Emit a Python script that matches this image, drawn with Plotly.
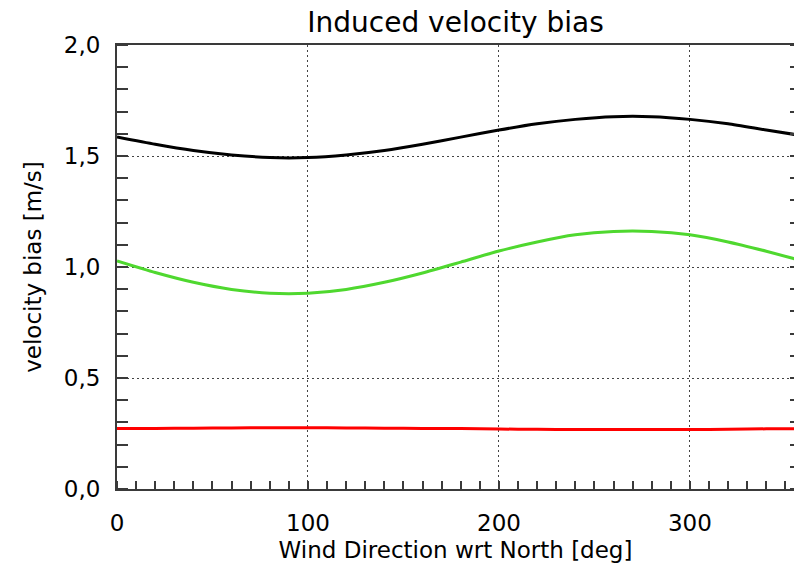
import plotly.graph_objects as go

# Data
direction = [0, 20, 40, 60, 80, 100, 120, 140, 160, 180, 200, 220, 240, 260, 280, 300, 320, 340, 360]
bias_black = [1.586, 1.553, 1.525, 1.505, 1.493, 1.493, 1.505, 1.525, 1.553, 1.585,
              1.617, 1.645, 1.665, 1.677, 1.677, 1.665, 1.645, 1.617, 1.590]
bias_green = [1.027, 0.975, 0.931, 0.899, 0.882, 0.882, 0.899, 0.931, 0.973, 1.022,
              1.072, 1.113, 1.145, 1.160, 1.160, 1.145, 1.113, 1.071, 1.025]
bias_red = [0.272, 0.273, 0.274, 0.275, 0.276, 0.276, 0.275, 0.274, 0.273, 0.272,
            0.270, 0.269, 0.268, 0.268, 0.268, 0.268, 0.269, 0.271, 0.272]

x_ticks = [0, 100, 200, 300]
x_ticklabels = ["0", "100", "200", "300"]
y_ticks = [0.0, 0.5, 1.0, 1.5, 2.0]
y_ticklabels = ["0,0", "0,5", "1,0", "1,5", "2,0"]

FONT = "DejaVu Sans"
AX = "#3a3a3a"
GRID_DASH = "2px,3px"

fig = go.Figure()
for ys, col in [(bias_black, "#000000"), (bias_green, "#4fd82f"), (bias_red, "#ff0000")]:
    fig.add_trace(go.Scatter(x=direction, y=ys, mode="lines",
                             line=dict(color=col, width=3, shape="spline", smoothing=0.6),
                             showlegend=False, hoverinfo="skip"))

# phantom trace for right-hand tick marks
fig.add_trace(go.Scatter(x=[0], y=[0], yaxis="y2", mode="lines",
                         line=dict(width=0), showlegend=False, hoverinfo="skip"))

fig.update_layout(
    width=794, height=563,
    margin=dict(l=117, r=0, t=45, b=74),
    paper_bgcolor="white", plot_bgcolor="white",
    title=dict(text="Induced velocity bias", x=0.5, xref="paper",
               y=1 - 22 / 563, yref="container", yanchor="middle", xanchor="center",
               font=dict(family=FONT, size=28, color="black")),
    xaxis=dict(range=[0, 354.5], tickmode="array", tickvals=x_ticks, ticktext=x_ticklabels,
               showline=True, linecolor=AX, linewidth=2, mirror=True,
               ticks="", showgrid=True, gridcolor="#444", griddash=GRID_DASH, gridwidth=1.3,
               zeroline=False, ticklabelstandoff=12,
               tickfont=dict(family=FONT, size=23, color="black"),
               minor=dict(dtick=10, tick0=0, ticks="inside", ticklen=8, tickcolor=AX,
                          tickwidth=1.5, showgrid=False),
               title=dict(text="Wind Direction wrt North [deg]", standoff=8,
                          font=dict(family=FONT, size=23, color="black"))),
    yaxis=dict(range=[0, 2.0], tickmode="array", tickvals=y_ticks, ticktext=y_ticklabels,
               showline=True, linecolor=AX, linewidth=2, mirror=False,
               ticks="", showgrid=True, gridcolor="#444", griddash=GRID_DASH, gridwidth=1.3,
               zeroline=False, ticklabelstandoff=10,
               tickfont=dict(family=FONT, size=23, color="black"),
               minor=dict(dtick=0.1, tick0=0, ticks="inside", ticklen=11, tickcolor=AX,
                          tickwidth=1.5, showgrid=False),
               title=dict(text="velocity bias [m/s]", standoff=16,
                          font=dict(family=FONT, size=23, color="black"))),
    yaxis2=dict(range=[0, 2.0], overlaying="y", side="right", showline=False,
                showgrid=False, zeroline=False, showticklabels=False,
                tickmode="array", tickvals=y_ticks, ticks="",
                minor=dict(dtick=0.1, tick0=0, ticks="inside", ticklen=4, tickcolor=AX,
                           tickwidth=1.5, showgrid=False)),
)

fig.write_html("out.html")
